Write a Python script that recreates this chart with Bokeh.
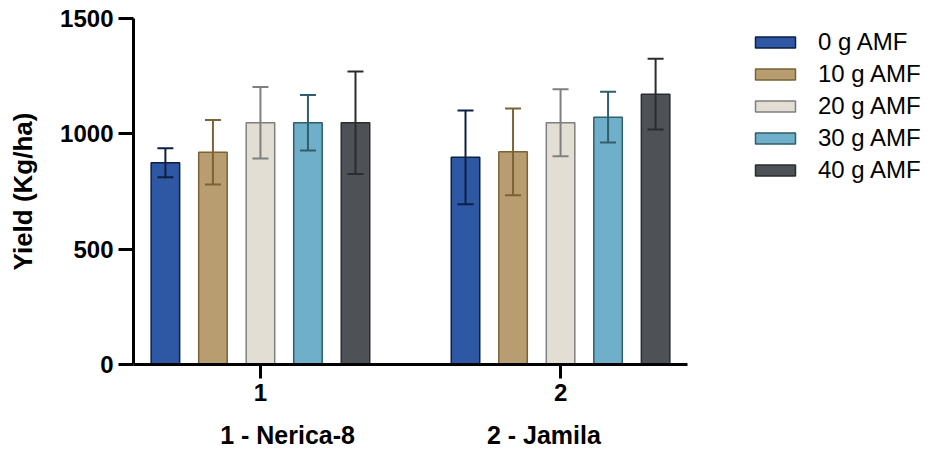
from bokeh.plotting import figure
from bokeh.models import ColumnDataSource, FixedTicker, Legend, LegendItem, Whisker, TeeHead
from bokeh.transform import dodge
from bokeh.embed import file_html
from bokeh.resources import INLINE

# ---- data ----
groups = [1, 2]
group_tick_labels = {1: "1", 2: "2"}
series_names = ["0 g AMF", "10 g AMF", "20 g AMF", "30 g AMF", "40 g AMF"]
yield_0g = [875, 898]
yield_10g = [920, 922]
yield_20g = [1048, 1048]
yield_30g = [1048, 1072]
yield_40g = [1048, 1172]
err_0g = [63, 203]
err_10g = [140, 188]
err_20g = [155, 145]
err_30g = [120, 110]
err_40g = [222, 153]
y_ticks = [0, 500, 1000, 1500]
x_title = "1 - Nerica-8" + "\u00a0" * 19 + "2 - Jamila"
y_title = "Yield (Kg/ha)"

means = [yield_0g, yield_10g, yield_20g, yield_30g, yield_40g]
errs = [err_0g, err_10g, err_20g, err_30g, err_40g]

fills = ["#2E57A4", "#B89D70", "#E2DED4", "#70AFC9", "#4E5257"]
lines = ["#0E1F42", "#7A6338", "#7F7F7F", "#2F5E6C", "#2A2C2F"]
offsets = [-0.3167, -0.1583, 0.0, 0.1583, 0.3167]

FONT = "Liberation Sans"

p = figure(frame_width=554, frame_height=346,
           x_range=(0.577, 2.423), y_range=(0, 1500),
           output_backend="svg", toolbar_location=None,
           min_border_left=133, min_border_top=18,
           min_border_right=235, min_border_bottom=80)
p.outline_line_color = None
p.xgrid.visible = False
p.ygrid.visible = False

items = []
for name, m, e, fc, lc, off in zip(series_names, means, errs, fills, lines, offsets):
    src = ColumnDataSource(dict(
        x=groups, top=m,
        upper=[a + b for a, b in zip(m, e)],
        lower=[a - b for a, b in zip(m, e)],
    ))
    r = p.vbar(x=dodge("x", off), top="top", bottom=0, width=0.095, source=src,
               fill_color=fc, line_color=lc, line_width=1.5)
    w = Whisker(base=dodge("x", off), upper="upper", lower="lower", source=src,
                level="overlay",
                line_color=lc, line_width=2,
                upper_head=TeeHead(size=16, line_color=lc, line_width=2),
                lower_head=TeeHead(size=16, line_color=lc, line_width=2))
    p.add_layout(w)
    items.append(LegendItem(label=name, renderers=[r]))

legend = Legend(items=items, location=(63, 180),
                glyph_width=50, glyph_height=14, label_height=28, spacing=4,
                label_standoff=18, padding=0, margin=0,
                border_line_color=None, background_fill_alpha=0,
                label_text_font=FONT, label_text_font_size="24px",
                label_text_color="black")
p.add_layout(legend, "right")

for ax in (p.xaxis[0], p.yaxis[0]):
    ax.axis_line_width = 3
    ax.axis_line_color = "black"
    ax.major_tick_line_width = 3
    ax.major_tick_line_color = "black"
    ax.major_tick_in = 0
    ax.minor_tick_line_color = None
    ax.major_label_text_font = FONT
    ax.major_label_text_font_style = "bold"
    ax.major_label_text_font_size = "24px"
    ax.major_label_text_color = "black"
    ax.axis_label_text_font = FONT
    ax.axis_label_text_font_style = "bold"
    ax.axis_label_text_color = "black"

p.xaxis.ticker = FixedTicker(ticks=groups)
p.xaxis.major_label_overrides = group_tick_labels
p.xaxis.major_tick_out = 14
p.xaxis.major_label_standoff = 5
p.xaxis.axis_label = x_title
p.xaxis.axis_label_text_font_size = "25px"
p.xaxis.axis_label_standoff = 17

p.yaxis.ticker = FixedTicker(ticks=y_ticks)
p.yaxis.major_tick_out = 15
p.yaxis.major_label_standoff = 5
p.yaxis.axis_label = y_title
p.yaxis.axis_label_text_font_size = "26px"
p.yaxis.axis_label_standoff = 19

open("out.html", "w").write(file_html(p, INLINE))
